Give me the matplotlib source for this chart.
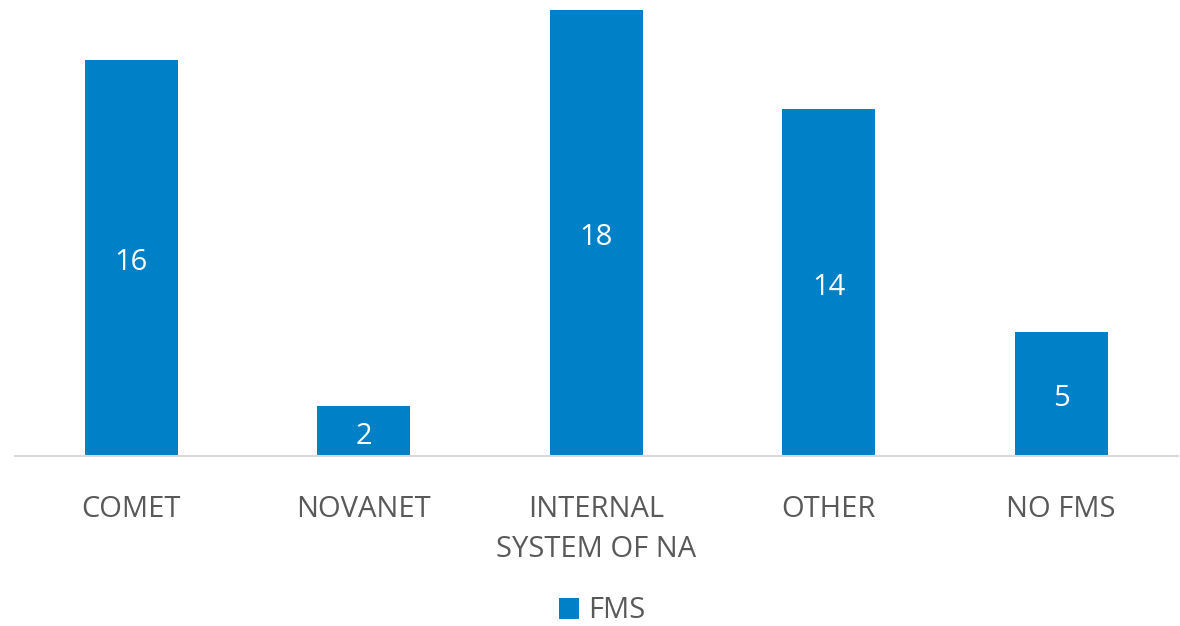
import numpy as np
import matplotlib.pyplot as plt

categories = ['COMET', 'NOVANET', 'INTERNAL\nSYSTEM OF NA', 'OTHER', 'NO FMS']
values = [16, 2, 18, 14, 5]
series_name = 'FMS'

plt.rcParams['font.family'] = ['Open Sans', 'DejaVu Sans']

fig = plt.figure(figsize=(11.8, 6.26), dpi=100)
ax = fig.add_axes([15 / 1180, (626 - 456) / 626, 1162.5 / 1180, 446 / 626])

x = np.arange(len(categories))
bars = ax.bar(x, values, width=0.4, color='#0080c6', label=series_name)
for b, v in zip(bars, values):
    ax.annotate(str(v), (b.get_x() + b.get_width() / 2, v / 2), xytext=(0, -3.5),
                textcoords='offset points', ha='center', va='center',
                color='white', fontsize=21)

ax.set_xlim(-0.5, len(categories) - 0.5)
ax.set_ylim(0, 18)
ax.set_xticks(x)
ax.set_xticklabels(categories, fontsize=21, color='#595959', linespacing=1.5)
ax.tick_params(axis='x', length=0, pad=28)
ax.set_yticks([])
for s in ['top', 'right', 'left']:
    ax.spines[s].set_visible(False)
ax.spines['bottom'].set_color('#d9d9d9')
ax.spines['bottom'].set_linewidth(1.5)

leg = fig.legend(loc='center', bbox_to_anchor=(602 / 1180, 1 - 611 / 626), frameon=False,
                 fontsize=21, handlelength=0.7, handleheight=0.7, handletextpad=0.3)
for t in leg.get_texts():
    t.set_color('#595959')

fig.savefig('out.png', dpi=100)
